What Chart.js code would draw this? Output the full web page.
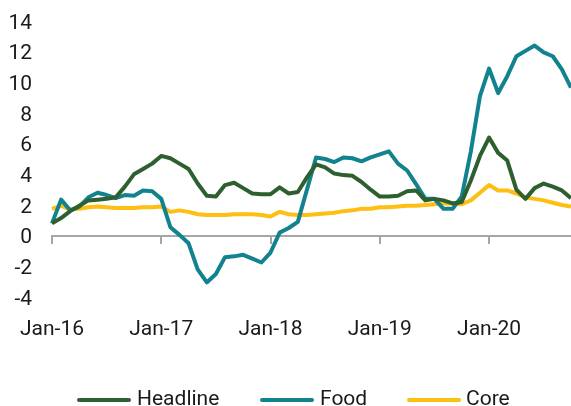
<!DOCTYPE html>
<html>
<head>
<meta charset="utf-8">
<script src="https://cdn.jsdelivr.net/npm/chart.js@4.4.0/dist/chart.umd.min.js"></script>
<style>
  body { margin: 0; background: #fff; }
  #wrap { position: relative; width: 571px; height: 406px; font-family: Roboto, sans-serif; }
  #legend .swatch { position: absolute; top: 398px; width: 54px; height: 4px; border-radius: 2px; }
  #legend .label { position: absolute; top: 386px; font-size: 21px; line-height: 24px; color: #1a1a1a; }
</style>
</head>
<body>
<div id="wrap">
  <canvas id="chart" width="571" height="406"></canvas>
  <div id="legend"></div>
</div>
<script>
// monthly, Jan-16 .. Oct-20
const monthNames = ['Jan','Feb','Mar','Apr','May','Jun','Jul','Aug','Sep','Oct','Nov','Dec'];
const months = [];
for (let y = 16; y <= 20; y++) {
  for (let m = 0; m < 12; m++) {
    if (y === 20 && m > 9) break;
    months.push(monthNames[m] + '-' + y);
  }
}

const headline = [0.8,1.15,1.6,1.95,2.3,2.35,2.4,2.5,3.2,4.0,4.35,4.7,
  5.2,5.05,4.7,4.35,3.4,2.6,2.55,3.3,3.45,3.1,2.75,2.7,
  2.7,3.15,2.75,2.85,3.8,4.65,4.45,4.05,3.95,3.9,3.5,3.0,
  2.55,2.55,2.6,2.9,2.95,2.3,2.4,2.3,2.1,2.2,3.6,5.2,
  6.4,5.4,4.9,3.0,2.4,3.1,3.4,3.2,2.95,2.45];

const food = [0.8,2.35,1.65,1.9,2.5,2.8,2.65,2.45,2.65,2.6,2.95,2.9,
  2.4,0.55,0.05,-0.5,-2.2,-3.05,-2.5,-1.4,-1.35,-1.25,-1.5,-1.75,
  -1.1,0.2,0.5,0.9,3.0,5.1,5.0,4.8,5.1,5.05,4.85,5.1,
  5.3,5.5,4.7,4.25,3.35,2.4,2.4,1.75,1.75,2.55,5.5,9.1,
  10.9,9.3,10.4,11.7,12.05,12.4,11.95,11.7,10.85,9.65];

const core = [1.75,1.95,1.7,1.75,1.85,1.9,1.85,1.8,1.8,1.8,1.85,1.85,
  1.9,1.55,1.65,1.55,1.4,1.35,1.35,1.35,1.4,1.4,1.4,1.35,
  1.25,1.55,1.4,1.35,1.35,1.4,1.45,1.5,1.6,1.65,1.75,1.75,
  1.85,1.85,1.9,1.95,1.95,2.0,2.05,2.1,2.1,2.05,2.3,2.8,
  3.3,2.95,2.95,2.75,2.5,2.4,2.3,2.15,2.0,1.9];

const xTickLabels = ['Jan-16','Jan-17','Jan-18','Jan-19','Jan-20'];
const yMin = -4, yMax = 14, yStep = 2;

const seriesNames = ['Headline','Food','Core'];
const seriesColors = ['#2e5f2f','#12828f','#fdbf11'];
const seriesData = [headline, food, core];

const axisGray = '#a6a6a6';
const textColor = '#1a1a1a';
const font = { family: 'Roboto', size: 21 };

const isYearTick = (i) => xTickLabels.includes(months[i]);

new Chart(document.getElementById('chart'), {
  type: 'line',
  data: {
    labels: months,
    datasets: seriesData.map((d, i) => ({
      label: seriesNames[i],
      data: d,
      borderColor: seriesColors[i],
      backgroundColor: seriesColors[i],
      borderWidth: 4,
      pointRadius: 0,
      tension: 0,
      fill: false,
      borderJoinStyle: 'round'
    }))
  },
  options: {
    responsive: false,
    animation: false,
    layout: { padding: { top: 21, right: 0, bottom: 65, left: 0 } },
    plugins: { legend: { display: false }, tooltip: { enabled: false } },
    scales: {
      x: {
        type: 'category',
        position: 'bottom',
        afterFit: (scale) => {
          scale.height = 44;
          scale.paddingLeft = 0;
          scale.paddingRight = 0;
        },
        grid: { display: false, drawTicks: false },
        border: { display: false },
        ticks: {
          autoSkip: false,
          maxRotation: 0,
          padding: 20,
          color: textColor,
          font: font,
          callback: (v, i) => isYearTick(i) ? months[i] : null
        }
      },
      x2: {
        type: 'category',
        labels: months,
        position: { y: 0 },
        grid: {
          drawOnChartArea: false,
          tickLength: 7,
          lineWidth: 2,
          color: (ctx) => isYearTick(ctx.index) ? axisGray : 'rgba(0,0,0,0)'
        },
        border: { display: true, color: axisGray, width: 2 },
        ticks: { display: false, autoSkip: false }
      },
      y: {
        min: yMin,
        max: yMax,
        afterFit: (scale) => {
          scale.width = 52;
          scale.paddingTop = 0;
          scale.paddingBottom = 0;
        },
        grid: { display: false, drawTicks: false },
        border: { display: false },
        ticks: { stepSize: yStep, autoSkip: false, padding: 20, labelOffset: 2.5, color: textColor, font: font }
      }
    }
  }
});

// legend
const legendPos = [[77, 137], [260, 320], [407, 466]];
const legend = document.getElementById('legend');
seriesNames.forEach((name, i) => {
  const sw = document.createElement('div');
  sw.className = 'swatch';
  sw.style.left = legendPos[i][0] + 'px';
  sw.style.background = seriesColors[i];
  legend.appendChild(sw);
  const lb = document.createElement('div');
  lb.className = 'label';
  lb.style.left = legendPos[i][1] + 'px';
  lb.textContent = name;
  legend.appendChild(lb);
});
</script>
</body>
</html>
